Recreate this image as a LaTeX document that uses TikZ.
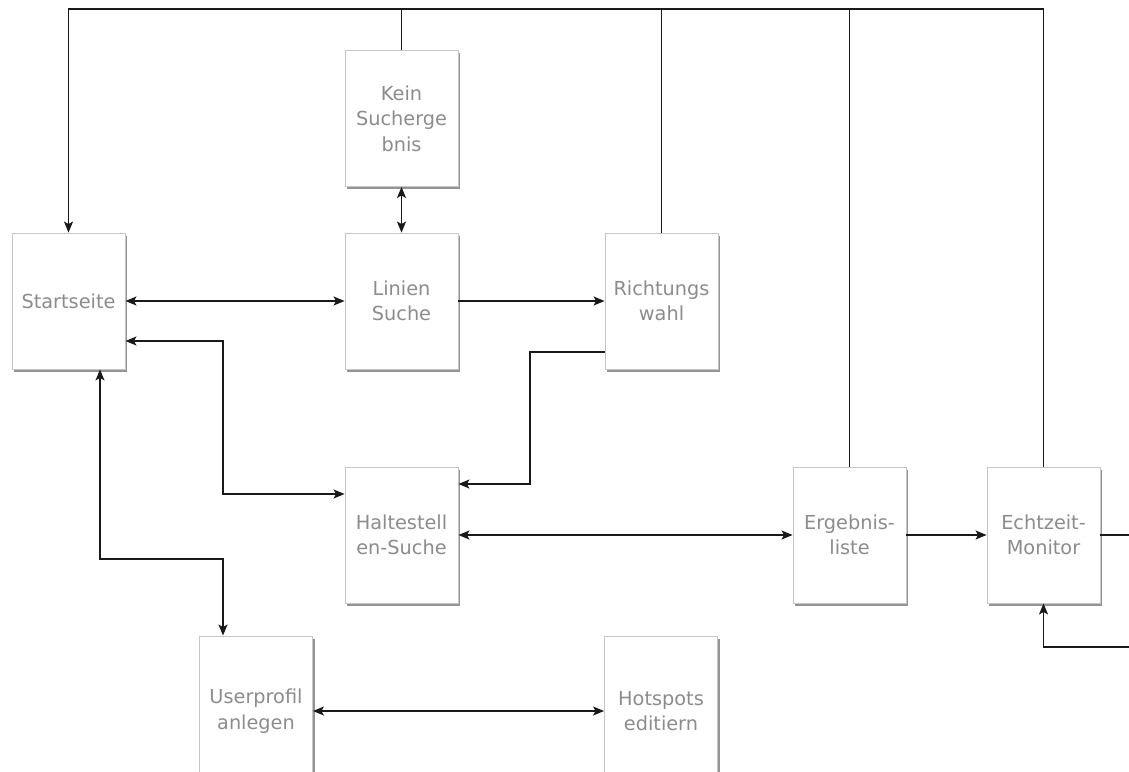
\documentclass[tikz,border=0pt]{standalone}
\usepackage{fontspec}
\setmainfont{DejaVu Sans}
\usetikzlibrary{arrows.meta,shadows}
\definecolor{boxline}{HTML}{C6C6C6}
\definecolor{boxtext}{HTML}{8C8C8C}
\begin{document}
\begin{tikzpicture}[x=1pt,y=-1pt,
  screen/.style={draw=boxline,line width=0.9pt,fill=white,
    minimum width=113pt,minimum height=136pt,inner sep=0pt,
    align=center,text=boxtext,
    font=\fontsize{19.3}{25.5}\selectfont,
    drop shadow={shadow xshift=2pt,shadow yshift=-2.5pt,fill=black,opacity=0.42}},
  link/.style={draw=black!90,line width=1.3pt},
  >={Stealth[length=11pt,width=9pt,inset=2.5pt]}]
\useasboundingbox (0,0) rectangle (1129,771);

% screens
\node[screen] (kein)     at (401.5,118.5) {Kein\\Sucherge\\bnis};
\node[screen] (start)    at (68.5,301)    {Startseite};
\node[screen] (linien)   at (401.5,301)   {Linien\\Suche};
\node[screen] (richtung) at (661.5,301)   {Richtungs\\wahl};
\node[screen] (halte)    at (401.5,535)   {Haltestell\\en-Suche};
\node[screen] (ergebnis) at (849.5,535)   {Ergebnis-\\liste};
\node[screen] (echtzeit) at (1043.5,535)  {Echtzeit-\\Monitor};
\node[screen,minimum height=150pt] (user)    at (256,711) {Userprofil\\anlegen};
\node[screen,minimum height=150pt] (hotspot) at (661,711) {Hotspots\\editiern};

% bend points
\coordinate (bus) at (0,9);
\coordinate (r2h) at (530,484);
\coordinate (s2h) at (223,494);
\coordinate (s2u) at (100,559);
\coordinate (eR)  at (1129,535);
\coordinate (eL)  at (1129,647);

% return bus along the top back to the start page
\draw[link,->] (echtzeit.north) -- (echtzeit.north |- bus) -| (start.north);
\draw[link] (kein.north) -- (kein.north |- bus);
\draw[link] (richtung.north) -- (richtung.north |- bus);
\draw[link] (ergebnis.north) -- (ergebnis.north |- bus);

% connectors
\draw[link,<->] (kein.south) -- (linien.north);
\draw[link,<->] (start.east) -- (linien.west);
\draw[link,->] (linien.east) -- (richtung.west);
\draw[link,->] (richtung.west |- 0,352) -| (r2h) -- (halte.east |- r2h);
\draw[link,<->] (start.east |- 0,341) -| (s2h) -- (halte.west |- s2h);
\draw[link,<->] (start.south -| s2u) -- (s2u) -| (user.north -| s2h);
\draw[link,<->] (halte.east) -- (ergebnis.west);
\draw[link,->] (ergebnis.east) -- (echtzeit.west);
\draw[link] (echtzeit.east) -- (eR);
\draw[link,->] (eL) -| (echtzeit.south);
\draw[link,<->] (user.east) -- (hotspot.west);
\end{tikzpicture}
\end{document}
